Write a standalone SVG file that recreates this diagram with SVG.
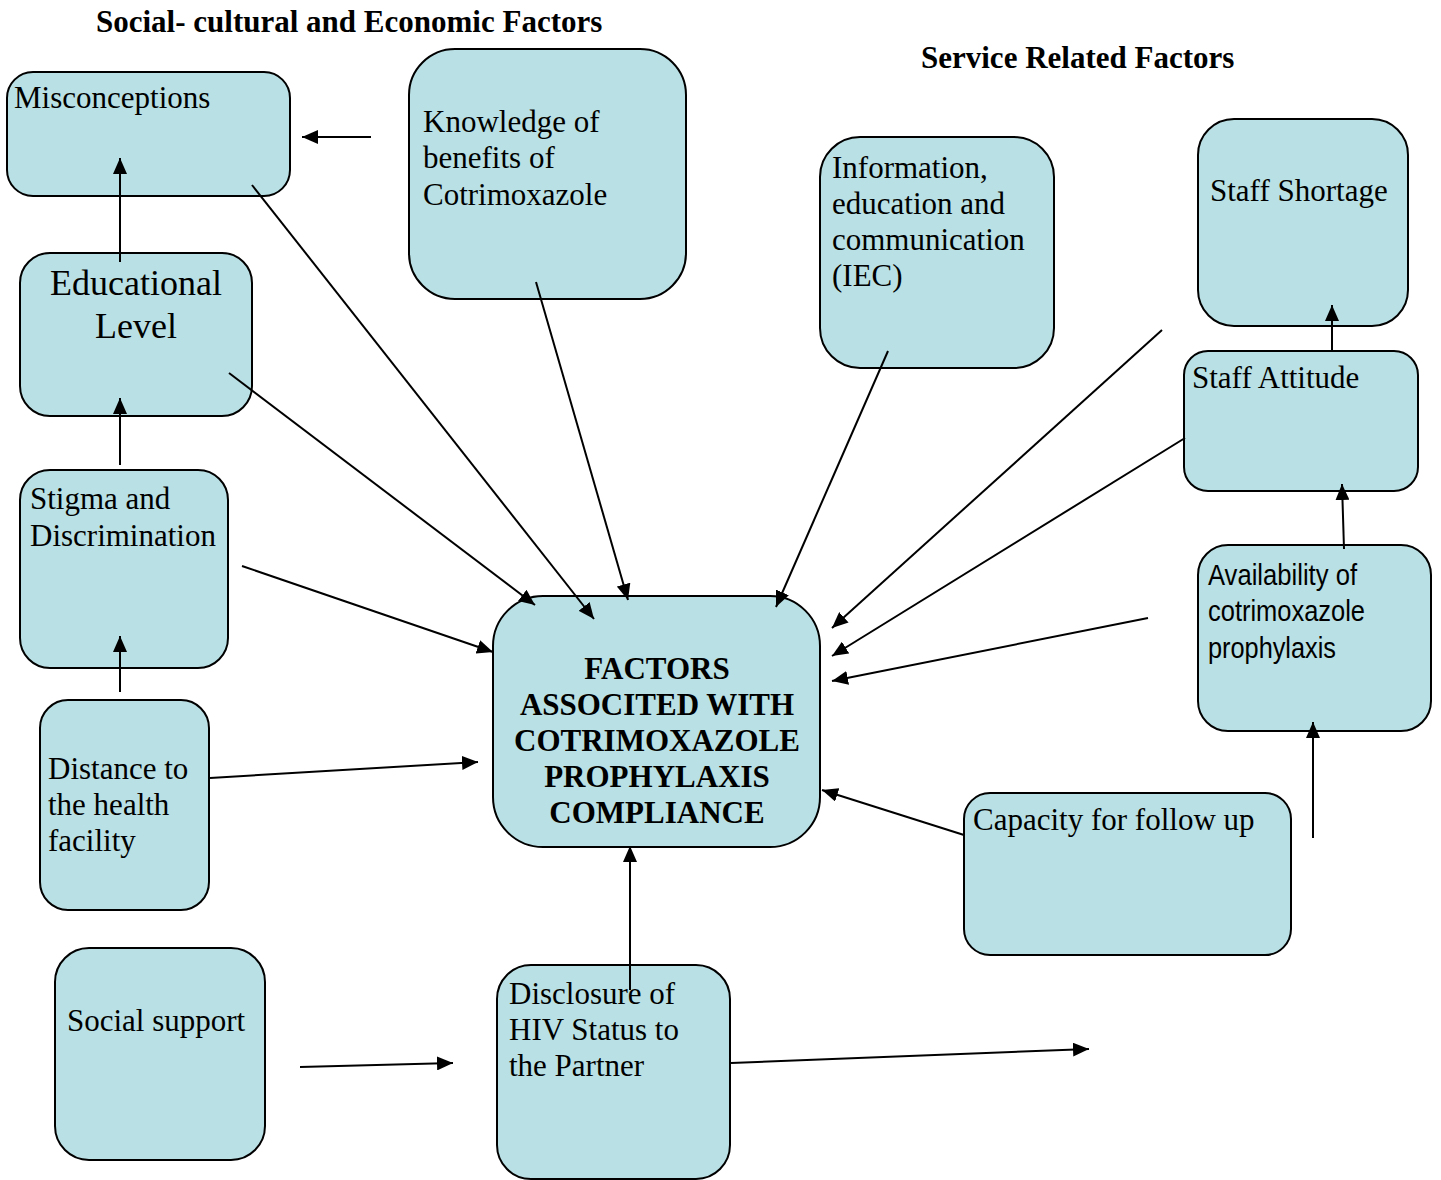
<svg xmlns="http://www.w3.org/2000/svg" width="1441" height="1180" viewBox="0 0 1441 1180">
<style>
.box{fill:#B9E0E4;stroke:#000;stroke-width:2}
.t{font-family:"Liberation Serif","Times New Roman",serif;font-size:31px;fill:#000}
.s{font-family:"Liberation Sans",Arial,sans-serif;font-size:30px;fill:#000}
.b{font-family:"Liberation Serif","Times New Roman",serif;font-weight:bold;font-size:31px;fill:#000}
.big{font-size:36px}
.c line{stroke:#000;stroke-width:2;marker-end:url(#ah)}
</style>
<defs>
<marker id="ah" markerUnits="userSpaceOnUse" markerWidth="18" markerHeight="14" refX="16" refY="7" orient="auto">
<path d="M0,0 L16,7 L0,14 Z" fill="#000"/>
</marker>
</defs>
<rect width="1441" height="1180" fill="#fff"/>
<text class="b" x="96" y="32">Social- cultural and Economic Factors</text>
<text class="b" x="921" y="68">Service Related Factors</text>

<g id="misconceptions"><rect class="box" x="7" y="72" width="283" height="124" rx="26"/><text class="t" x="14" y="108">Misconceptions</text></g>
<g id="knowledge"><rect class="box" x="409" y="49" width="277" height="250" rx="46"/><text class="t" x="423" y="132">Knowledge of</text><text class="t" x="423" y="168">benefits of</text><text class="t" x="423" y="205">Cotrimoxazole</text></g>
<g id="educational"><rect class="box" x="20" y="253" width="232" height="163" rx="30"/><text class="t big" x="136" y="295" text-anchor="middle">Educational</text><text class="t big" x="136" y="338" text-anchor="middle">Level</text></g>
<g id="stigma"><rect class="box" x="20" y="470" width="208" height="198" rx="30"/><text class="t" x="30" y="509">Stigma and</text><text class="t" x="30" y="546">Discrimination</text></g>
<g id="distance"><rect class="box" x="40" y="700" width="169" height="210" rx="28"/><text class="t" x="48" y="779">Distance to</text><text class="t" x="48" y="815">the health</text><text class="t" x="48" y="851">facility</text></g>
<g id="social"><rect class="box" x="55" y="948" width="210" height="212" rx="34"/><text class="t" x="67" y="1031">Social support</text></g>
<g id="disclosure"><rect class="box" x="497" y="965" width="233" height="214" rx="34"/><text class="t" x="509" y="1004">Disclosure of</text><text class="t" x="509" y="1040">HIV Status to</text><text class="t" x="509" y="1076">the Partner</text></g>
<g id="central"><rect class="box" x="493" y="596" width="327" height="251" rx="50"/>
<g class="b" text-anchor="middle"><text x="657" y="679">FACTORS</text><text x="657" y="715">ASSOCITED WITH</text><text x="657" y="751">COTRIMOXAZOLE</text><text x="657" y="787">PROPHYLAXIS</text><text x="657" y="823">COMPLIANCE</text></g></g>
<g id="iec"><rect class="box" x="820" y="137" width="234" height="231" rx="40"/><text class="t" x="832" y="178">Information,</text><text class="t" x="832" y="214">education and</text><text class="t" x="832" y="250">communication</text><text class="t" x="832" y="286">(IEC)</text></g>
<g id="shortage"><rect class="box" x="1198" y="119" width="210" height="207" rx="36"/><text class="t" x="1210" y="201">Staff Shortage</text></g>
<g id="attitude"><rect class="box" x="1184" y="351" width="234" height="140" rx="24"/><text class="t" x="1192" y="388">Staff Attitude</text></g>
<g id="availability"><rect class="box" x="1198" y="545" width="233" height="186" rx="30"/><text class="s" x="1208" y="585" textLength="149" lengthAdjust="spacingAndGlyphs">Availability of</text><text class="s" x="1208" y="621" textLength="157" lengthAdjust="spacingAndGlyphs">cotrimoxazole</text><text class="s" x="1208" y="658" textLength="128" lengthAdjust="spacingAndGlyphs">prophylaxis</text></g>
<g id="capacity"><rect class="box" x="964" y="793" width="327" height="162" rx="26"/><text class="t" x="973" y="830">Capacity for follow up</text></g>

<g id="connectors" class="c">
<line x1="371" y1="137" x2="302" y2="137"/>
<line x1="120" y1="262" x2="120" y2="158"/>
<line x1="120" y1="465" x2="120" y2="398"/>
<line x1="120" y1="692" x2="120" y2="636"/>
<line x1="252" y1="185" x2="594" y2="619"/>
<line x1="229" y1="373" x2="535" y2="605"/>
<line x1="536" y1="282" x2="628" y2="600"/>
<line x1="242" y1="566" x2="493" y2="652"/>
<line x1="210" y1="778" x2="478" y2="762"/>
<line x1="630" y1="990" x2="630" y2="846"/>
<line x1="300" y1="1067" x2="453" y2="1063"/>
<line x1="731" y1="1063" x2="1089" y2="1049"/>
<line x1="888" y1="351" x2="776" y2="607"/>
<line x1="1162" y1="330" x2="832" y2="628"/>
<line x1="1185" y1="438" x2="832" y2="656"/>
<line x1="1148" y1="618" x2="832" y2="681"/>
<line x1="964" y1="835" x2="822" y2="790"/>
<line x1="1332" y1="352" x2="1332" y2="305"/>
<line x1="1344" y1="549" x2="1342" y2="484"/>
<line x1="1313" y1="838" x2="1313" y2="722"/>
</g>
</svg>
